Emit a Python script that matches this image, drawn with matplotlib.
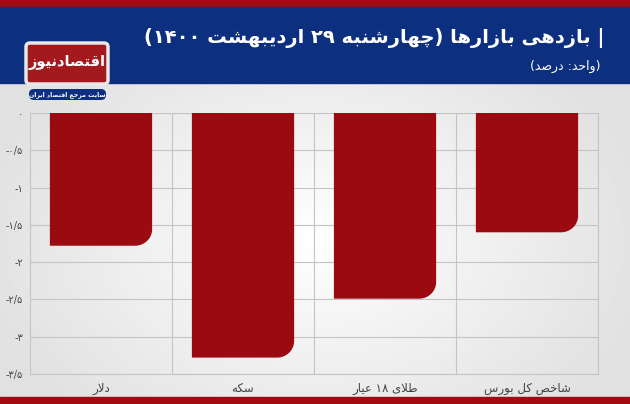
import numpy as np
import matplotlib.pyplot as plt
from matplotlib.path import Path
from matplotlib.patches import PathPatch, FancyBboxPatch, Rectangle

# داده‌ها
categories = ['دلار', 'سکه', 'طلای ۱۸ عیار', 'شاخص کل بورس']
values = [-1.78, -3.28, -2.49, -1.60]
yticks = [0, -0.5, -1, -1.5, -2, -2.5, -3, -3.5]
ytick_labels = ['۰', '-۰/۵', '-۱', '-۱/۵', '-۲', '-۲/۵', '-۳', '-۳/۵']
title = '| بازدهی بازارها (چهارشنبه ۲۹ اردیبهشت ۱۴۰۰)'
subtitle = '(واحد: درصد)'
logo_text = 'اقتصادنیوز'
logo_sub = 'سایت مرجع اقتصاد ایران'

# شکل‌دهی ساده حروف فارسی (isolated, final, initial, medial)
FORMS = {
    'ا': (0xFE8D, 0xFE8E, None, None), 'آ': (0xFE81, 0xFE82, None, None),
    'ب': (0xFE8F, 0xFE90, 0xFE91, 0xFE92), 'پ': (0xFB56, 0xFB57, 0xFB58, 0xFB59),
    'ت': (0xFE95, 0xFE96, 0xFE97, 0xFE98), 'ث': (0xFE99, 0xFE9A, 0xFE9B, 0xFE9C),
    'ج': (0xFE9D, 0xFE9E, 0xFE9F, 0xFEA0), 'چ': (0xFB7A, 0xFB7B, 0xFB7C, 0xFB7D),
    'ح': (0xFEA1, 0xFEA2, 0xFEA3, 0xFEA4), 'خ': (0xFEA5, 0xFEA6, 0xFEA7, 0xFEA8),
    'د': (0xFEA9, 0xFEAA, None, None), 'ذ': (0xFEAB, 0xFEAC, None, None),
    'ر': (0xFEAD, 0xFEAE, None, None), 'ز': (0xFEAF, 0xFEB0, None, None),
    'ژ': (0xFB8A, 0xFB8B, None, None),
    'س': (0xFEB1, 0xFEB2, 0xFEB3, 0xFEB4), 'ش': (0xFEB5, 0xFEB6, 0xFEB7, 0xFEB8),
    'ص': (0xFEB9, 0xFEBA, 0xFEBB, 0xFEBC), 'ض': (0xFEBD, 0xFEBE, 0xFEBF, 0xFEC0),
    'ط': (0xFEC1, 0xFEC2, 0xFEC3, 0xFEC4), 'ظ': (0xFEC5, 0xFEC6, 0xFEC7, 0xFEC8),
    'ع': (0xFEC9, 0xFECA, 0xFECB, 0xFECC), 'غ': (0xFECD, 0xFECE, 0xFECF, 0xFED0),
    'ف': (0xFED1, 0xFED2, 0xFED3, 0xFED4), 'ق': (0xFED5, 0xFED6, 0xFED7, 0xFED8),
    'ک': (0xFB8E, 0xFB8F, 0xFB90, 0xFB91), 'گ': (0xFB92, 0xFB93, 0xFB94, 0xFB95),
    'ل': (0xFEDD, 0xFEDE, 0xFEDF, 0xFEE0), 'م': (0xFEE1, 0xFEE2, 0xFEE3, 0xFEE4),
    'ن': (0xFEE5, 0xFEE6, 0xFEE7, 0xFEE8), 'و': (0xFEED, 0xFEEE, None, None),
    'ه': (0xFEE9, 0xFEEA, 0xFEEB, 0xFEEC), 'ی': (0xFBFC, 0xFBFD, 0xFBFE, 0xFBFF),
}
MIRROR = {'(': ')', ')': '('}


def fa(text):
    chars = list(text)
    out = []
    n = len(chars)
    i = 0
    while i < n:
        c = chars[i]
        prev = chars[i - 1] if i > 0 else None
        joins_prev = prev in FORMS and FORMS[prev][2] is not None and c in FORMS
        # لیگاتور لا
        if c == 'ل' and i + 1 < n and chars[i + 1] == 'ا':
            out.append(chr(0xFEFC if joins_prev else 0xFEFB))
            i += 2
            continue
        if c in FORMS:
            nxt = chars[i + 1] if i + 1 < n else None
            joins_next = FORMS[c][2] is not None and nxt in FORMS
            iso, fin, ini, med = FORMS[c]
            if joins_prev and joins_next:
                out.append(chr(med))
            elif joins_prev:
                out.append(chr(fin))
            elif joins_next:
                out.append(chr(ini))
            else:
                out.append(chr(iso))
        else:
            out.append(c)
        i += 1
    # ترتیب نمایشی راست به چپ، اعداد چپ به راست
    vis = [MIRROR.get(c, c) for c in reversed(out)]
    res = []
    run = []
    for c in vis:
        if c.isdigit():
            run.append(c)
        else:
            res.extend(reversed(run))
            run = []
            res.append(c)
    res.extend(reversed(run))
    return ''.join(res)


plt.rcParams['font.family'] = ['DejaVu Sans']

fig = plt.figure(figsize=(6.3, 4.04), dpi=100)
W, H = 630, 404

# پس‌زمینه
bg = fig.add_axes([0, 0, 1, 1])
bg.set_xlim(0, W)
bg.set_ylim(H, 0)
bg.axis('off')
xx = np.linspace(-1, 1, 200)
yy = np.linspace(-1, 1, 120)
X, Y = np.meshgrid(xx, yy)
grad = 1 - 0.12 * np.clip(np.sqrt(X ** 2 * 0.8 + Y ** 2 * 0.4), 0, 1)
bg.imshow(grad, cmap='gray', vmin=0, vmax=1, extent=[0, W, 397, 83], aspect='auto', zorder=0)
bg.add_patch(Rectangle((0, 0), W, 7, color='#a00a10', zorder=1))
bg.add_patch(Rectangle((0, 7), W, 76, color='#0c2f7f', zorder=1))
bg.add_patch(Rectangle((0, 397), W, 7, color='#a00a10', zorder=1))

# عنوان
bg.text(604, 38, fa(title), color='white', fontsize=14, fontweight='bold',
        ha='right', va='center', zorder=3)
bg.text(600, 66, fa(subtitle), color='white', fontsize=9, ha='right', va='center', zorder=3)

# لوگو
bg.add_patch(FancyBboxPatch((26, 43), 82, 41, boxstyle='round,pad=0,rounding_size=4',
                            fc='#a3191d', ec='#e8e8e8', lw=2.5, zorder=3))
bg.text(67, 63, fa(logo_text), color='white', fontsize=10.5, fontweight='bold',
        ha='center', va='center', zorder=4)
bg.add_patch(FancyBboxPatch((29, 89), 77, 11, boxstyle='round,pad=0,rounding_size=5',
                            fc='#0c2f7f', ec='none', zorder=3))
bg.text(67, 94.5, fa(logo_sub), color='white', fontsize=4.5, fontweight='bold',
        ha='center', va='center', zorder=4)

# نمودار
ax = fig.add_axes([30 / W, 1 - 374 / H, 568 / W, 261 / H])
ax.set_facecolor('none')
ax.set_xlim(-0.5, len(categories) - 0.5)
ax.set_ylim(-3.5, 0)

bar_w = 0.72
rx = 0.12
ry = 0.22
for i, v in enumerate(values):
    x0 = i - bar_w / 2
    x1 = i + bar_w / 2
    k = 0.55
    verts = [(x0, 0), (x1, 0), (x1, v + ry),
             (x1, v + ry * (1 - k)), (x1 - rx * (1 - k), v), (x1 - rx, v),
             (x0, v), (x0, 0)]
    codes = [Path.MOVETO, Path.LINETO, Path.LINETO,
             Path.CURVE4, Path.CURVE4, Path.CURVE4,
             Path.LINETO, Path.CLOSEPOLY]
    ax.add_patch(PathPatch(Path(verts, codes), fc='#9b0a10', ec='none', zorder=2))

ax.set_yticks(yticks)
ax.set_yticklabels(ytick_labels, fontsize=7, color='#444444')
ax.set_xticks(range(len(categories)))
ax.set_xticklabels([fa(c) for c in categories], fontsize=8.5, color='#444444')
ax.tick_params(length=0, pad=6)
ax.tick_params(axis='y', pad=5)
ax.grid(axis='y', color='#c4c4c4', lw=0.8, zorder=0)
for b in [0.5, 1.5, 2.5]:
    ax.axvline(b, color='#c4c4c4', lw=0.8, zorder=0)
ax.spines['top'].set_visible(False)
for s in ['left', 'right', 'bottom']:
    ax.spines[s].set_color('#c4c4c4')
    ax.spines[s].set_linewidth(0.8)

fig.savefig('out.png', dpi=100)
